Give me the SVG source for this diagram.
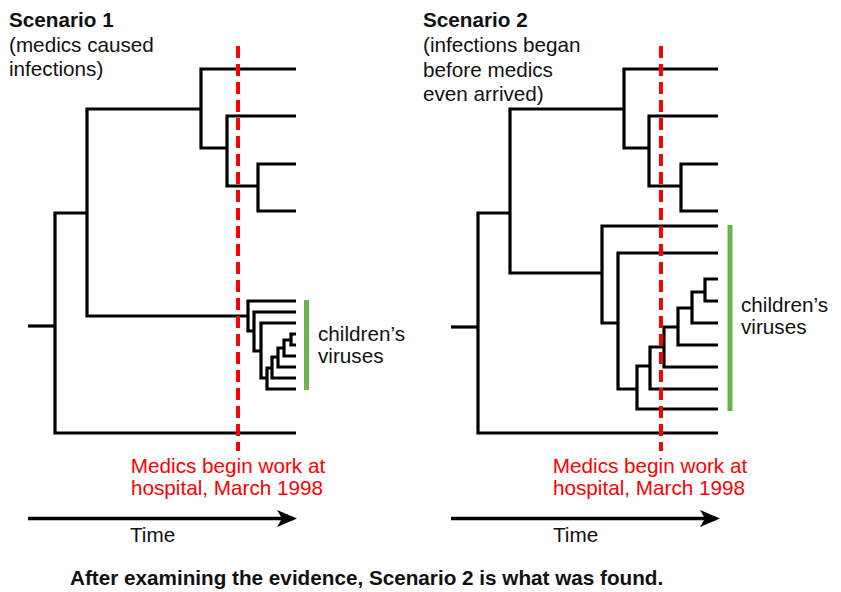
<svg xmlns="http://www.w3.org/2000/svg" width="841" height="592" viewBox="0 0 841 592">
<defs>
<style>
text{font-family:"Liberation Sans",Arial,Helvetica,sans-serif;font-size:20.7px;fill:#111}
.b{font-weight:bold}
.red{fill:#ff0000;text-anchor:middle}
.br{fill:none;stroke:#000;stroke-width:3.2;stroke-linejoin:miter;stroke-linecap:butt}
.dash{fill:none;stroke:#ff0000;stroke-width:4;stroke-dasharray:12 6}
.green{fill:#6cb24f}
.axis{fill:none;stroke:#000;stroke-width:3.4}
</style>
<marker id="ah" viewBox="0 0 20 17" refX="16" refY="8.5" markerWidth="20" markerHeight="17" markerUnits="userSpaceOnUse" orient="auto">
<path d="M0 0 L20 8.5 L0 17 L5 8.5 Z" fill="#000"/>
</marker>
</defs>
<rect width="841" height="592" fill="#fff"/>

<g id="scenario1-title">
<text class="b" x="9" y="27">Scenario 1</text>
<text x="9" y="52">(medics caused</text>
<text x="9" y="76">infections)</text>
</g>

<g id="scenario2-title">
<text class="b" x="423" y="27">Scenario 2</text>
<text x="423" y="52">(infections began</text>
<text x="423" y="77">before medics</text>
<text x="423" y="101">even arrived)</text>
</g>

<g id="connectors">
<g id="tree1" class="br">
<path d="M28 326 H55"/>
<path d="M87 213 H55 V433 H296"/>
<path d="M201 109 H87 V316 H248"/>
<path d="M296 69 H201 V148 H227"/>
<path d="M296 116 H227 V186 H258"/>
<path d="M296 164 H258 V211 H296"/>
<path d="M296 301 H248 V331 H254"/>
<path d="M296 312 H254 V351 H261"/>
<path d="M296 323 H261 V378 H267"/>
<path d="M296 389 H267 V368 H272"/>
<path d="M296 378 H272 V357 H278"/>
<path d="M296 367 H278 V348 H284"/>
<path d="M296 356 H284 V340 H291"/>
<path d="M296 334 H291 V345 H296"/>
</g>
<g id="tree2" class="br">
<path d="M451 327 H478"/>
<path d="M510 213 H478 V433 H718"/>
<path d="M624 109 H510 V273 H602"/>
<path d="M718 69 H624 V148 H649"/>
<path d="M718 116 H649 V186 H681"/>
<path d="M718 164 H681 V211 H718"/>
<path d="M718 226 H602 V323 H618"/>
<path d="M718 253 H618 V389 H637"/>
<path d="M718 409 H637 V366 H650"/>
<path d="M718 389 H650 V347 H664"/>
<path d="M718 367 H664 V327 H678"/>
<path d="M718 345 H678 V308 H692"/>
<path d="M718 323 H692 V292 H705"/>
<path d="M718 279 H705 V301 H718"/>
</g>
<line class="dash" x1="238" y1="46" x2="238" y2="451"/>
<line class="dash" x1="661" y1="46" x2="661" y2="451"/>
<line class="axis" x1="28" y1="518.5" x2="293" y2="518.5" marker-end="url(#ah)"/>
<line class="axis" x1="451" y1="518.5" x2="716" y2="518.5" marker-end="url(#ah)"/>
</g>

<g id="children1">
<rect class="green" x="304" y="300" width="5" height="90"/>
<text x="318" y="341">children’s</text>
<text x="318" y="362.5">viruses</text>
</g>
<g id="children2">
<rect class="green" x="727.5" y="225" width="5" height="186"/>
<text x="741" y="312">children’s</text>
<text x="741" y="333.5">viruses</text>
</g>

<g id="medics1">
<text class="red" x="228" y="473">Medics begin work at</text>
<text class="red" x="227" y="495">hospital, March 1998</text>
</g>
<g id="medics2">
<text class="red" x="650" y="473">Medics begin work at</text>
<text class="red" x="649" y="495">hospital, March 1998</text>
</g>

<g id="time1"><text x="130" y="542">Time</text></g>
<g id="time2"><text x="553" y="542">Time</text></g>

<g id="caption">
<text class="b" x="70" y="585">After examining the evidence, Scenario 2 is what was found.</text>
</g>
</svg>
